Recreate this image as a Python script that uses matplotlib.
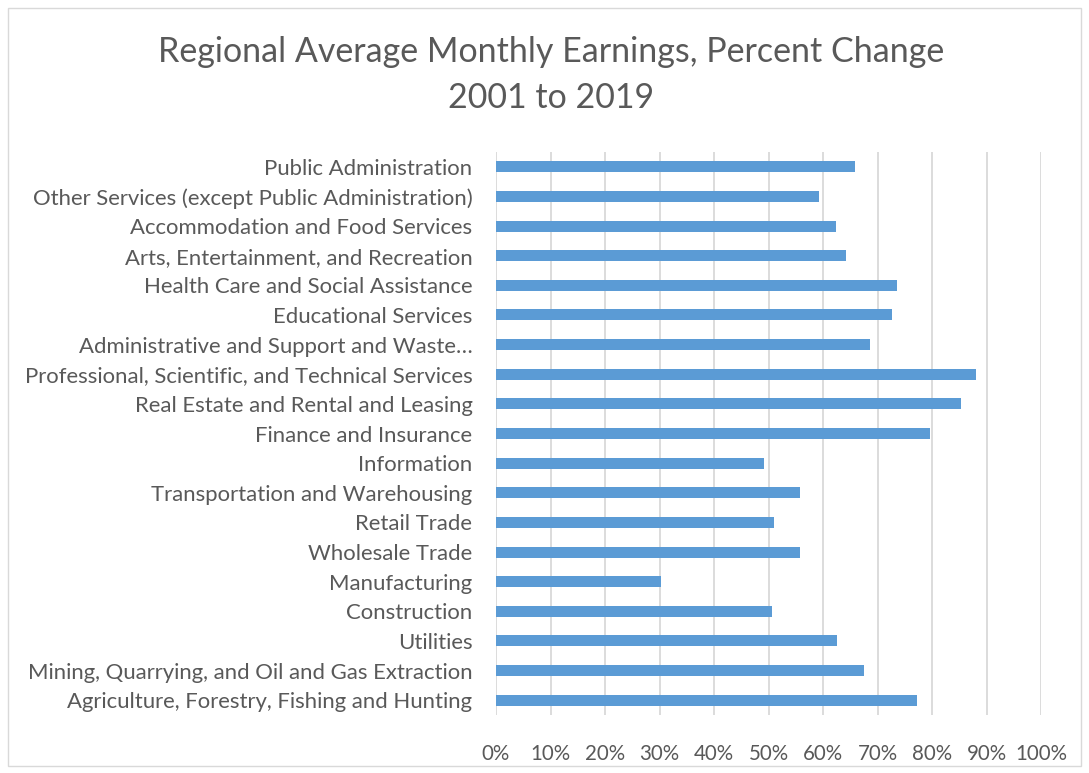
import numpy as np
import matplotlib.pyplot as plt
from matplotlib.patches import Rectangle
from matplotlib.ticker import PercentFormatter

plt.rcParams['font.family'] = ['Lato', 'DejaVu Sans']

# データ（下から上の順）
categories = [
    'Agriculture, Forestry, Fishing and Hunting',
    'Mining, Quarrying, and Oil and Gas Extraction',
    'Utilities',
    'Construction',
    'Manufacturing',
    'Wholesale Trade',
    'Retail Trade',
    'Transportation and Warehousing',
    'Information',
    'Finance and Insurance',
    'Real Estate and Rental and Leasing',
    'Professional, Scientific, and Technical Services',
    'Administrative and Support and Waste…',
    'Educational Services',
    'Health Care and Social Assistance',
    'Arts, Entertainment, and Recreation',
    'Accommodation and Food Services',
    'Other Services (except Public Administration)',
    'Public Administration',
]
pct_change = [77.3, 67.6, 62.5, 50.7, 30.3, 55.8, 51.1, 55.7, 49.2, 79.6,
              85.4, 88.1, 68.6, 72.6, 73.5, 64.2, 62.4, 59.2, 65.9]
x_ticks = np.arange(0, 101, 10)

text_color = '#595959'
bar_color = '#5B9BD5'
grid_color = '#D9D9D9'

W, H = 1089, 773
fig = plt.figure(figsize=(W / 100, H / 100), dpi=100)
ax = fig.add_axes([496 / W, 1 - 715 / H, (1041 - 496) / W, (715 - 152) / H])

y = np.arange(len(categories))
ax.barh(y, pct_change, height=0.37, color=bar_color, zorder=3)

ax.set_xlim(0, 100)
ax.set_ylim(-0.5, len(categories) - 0.5)
ax.set_xticks(x_ticks)
ax.xaxis.set_major_formatter(PercentFormatter(decimals=0))
ax.set_yticks(y)
ax.set_yticklabels(categories)

ax.grid(axis='x', color=grid_color, linewidth=1.3, zorder=0)
for s in ax.spines.values():
    s.set_visible(False)
ax.tick_params(axis='both', length=0, colors=text_color)
ax.tick_params(axis='x', pad=21, labelsize=14.8)
ax.tick_params(axis='y', pad=17, labelsize=15.9)

fig.text(0.506, 1 - 52 / H, 'Regional Average Monthly Earnings, Percent Change',
         ha='center', va='center', fontsize=24.5, color=text_color)
fig.text(0.506, 1 - 98 / H, '2001 to 2019',
         ha='center', va='center', fontsize=24.5, color=text_color)

# 外枠
fig.patches.append(Rectangle((8 / W, 1 - 766 / H), (1081 - 8) / W, (766 - 8) / H,
                             transform=fig.transFigure, fill=False,
                             edgecolor=grid_color, linewidth=1))

fig.savefig('out.png', dpi=100)
